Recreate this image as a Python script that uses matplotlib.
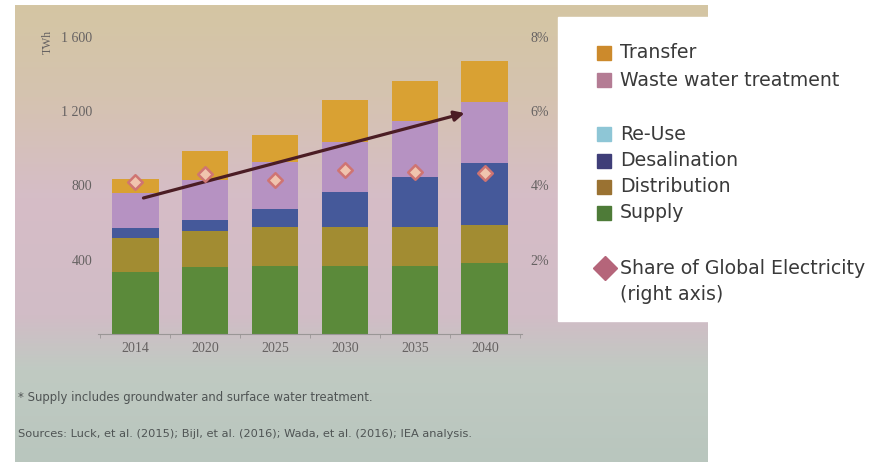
import matplotlib
matplotlib.use('Agg')
import matplotlib.pyplot as plt
import numpy as np
from matplotlib.colors import LinearSegmentedColormap
from matplotlib.patches import Rectangle

# Electricity use in the water sector, TWh
years = ['2014', '2020', '2025', '2030', '2035', '2040']
supply = [335, 358, 365, 365, 365, 380]
distribution = [184, 197, 211, 211, 211, 205]
desalination = [49, 57, 99, 188, 269, 335]
re_use = [0, 0, 0, 0, 0, 0]
waste_water = [191, 215, 250, 269, 304, 327]
transfer = [73, 157, 144, 224, 215, 221]

# share of global electricity demand, % (right axis)
share_pct = [4.09, 4.30, 4.15, 4.40, 4.36, 4.33]

# trend arrow (category index, TWh)
trend_start = (0.12, 732)
trend_end = (4.71, 1189)

left_ticks = [400, 800, 1200, 1600]
left_labels = ['400', '800', '1 200', '1 600']
right_ticks = [2, 4, 6, 8]
right_labels = ['2%', '4%', '6%', '8%']

series = [supply, distribution, desalination, re_use, waste_water, transfer]
bar_colors = ['#5b8a3a', '#a28c32', '#45599a', '#8ec7d6', '#b692c2', '#d9a133']

W, H = 877, 462
fig = plt.figure(figsize=(W / 100, H / 100), dpi=100)

# page and slide background, in pixel units
bg = fig.add_axes([0, 0, 1, 1], zorder=-10)
slide_cmap = LinearSegmentedColormap.from_list('slide', [
    (0.0, '#d4c6a3'), (0.2, '#d5c3b0'), (0.42, '#d6bdc7'),
    (0.68, '#d1bcc6'), (0.8, '#c0cac2'), (1.0, '#b9c6be')])
grad = np.linspace(0, 1, 256).reshape(-1, 1)
bg.imshow(grad, cmap=slide_cmap, extent=(15, 708, 462, 5), aspect='auto')
bg.add_patch(Rectangle((558, 17), W - 558, 321 - 17, color='white', zorder=2))
bg.set_xlim(0, W)
bg.set_ylim(H, 0)
bg.axis('off')

# stacked bars
ax = fig.add_axes([98 / W, 1 - 334 / H, (522 - 98) / W, (334 - 36.7) / H])
ax.patch.set_alpha(0)
x = np.arange(len(years))
bottom = np.zeros(len(years))
for vals, color in zip(series, bar_colors):
    ax.bar(x, vals, 0.67, bottom=bottom, color=color, zorder=2)
    bottom += np.array(vals)

tick_color = '#666262'
ax.set_xlim(-0.53, 5.53)
ax.set_ylim(0, 1600)
ax.set_yticks(left_ticks, left_labels)
ax.set_xticks(x, years)
ax.set_xticks(np.arange(-0.5, len(years), 1), minor=True)
ax.tick_params(axis='y', length=0, pad=4, labelsize=10, labelcolor=tick_color)
ax.tick_params(axis='x', which='major', length=0, pad=6, labelsize=10, labelcolor=tick_color)
ax.tick_params(axis='x', which='minor', length=3, color='#9a9696')
for lab in ax.get_xticklabels() + ax.get_yticklabels():
    lab.set_family('Liberation Serif')
for s in ['left', 'right', 'top']:
    ax.spines[s].set_visible(False)
ax.spines['bottom'].set_color('#9a9696')

ax.annotate('', xy=trend_end, xytext=trend_start,
            arrowprops=dict(arrowstyle='-|>,head_length=0.6,head_width=0.3',
                            color='#4b1d24', lw=2.3, shrinkA=0, shrinkB=0),
            zorder=4)

# share of electricity on the right axis
ax2 = ax.twinx()
ax2.patch.set_alpha(0)
ax2.set_ylim(0, 8)
ax2.set_yticks(right_ticks, right_labels)
ax2.tick_params(axis='y', length=0, pad=6, labelsize=10, labelcolor=tick_color)
for lab in ax2.get_yticklabels():
    lab.set_family('Liberation Serif')
for s in ax2.spines.values():
    s.set_visible(False)
ax2.scatter(x, share_pct, marker='D', s=55, facecolor='#f0c4ae',
            edgecolor='#cf7472', linewidth=1.8, zorder=3)

fig.text(48 / W, 1 - 30 / H, 'TWh', rotation=90, ha='center', va='top',
         fontsize=8.5, family='Liberation Serif', color=tick_color)

# notes under the chart
note_color = '#4f5454'
fig.text(18 / W, 1 - 397 / H, '* Supply includes groundwater and surface water treatment.',
         va='center', fontsize=8.4, color=note_color)
fig.text(18 / W, 1 - 434 / H,
         'Sources: Luck, et al. (2015); Bijl, et al. (2016); Wada, et al. (2016); IEA analysis.',
         va='center', fontsize=8.2, color=note_color)

# legend panel
legend_size = 13.6
legend_rows = [
    ('Transfer', 53, '#cc8a2c'),
    ('Waste water treatment', 80, '#b47c94'),
    ('Re-Use', 134, '#8ec6d6'),
    ('Desalination', 161, '#3f3e78'),
    ('Distribution', 187, '#9a7232'),
    ('Supply', 213, '#4e7b38'),
]
for label, y, color in legend_rows:
    bg.add_patch(Rectangle((597, y - 7), 14, 14, color=color, zorder=3))
    bg.text(620, y, label, va='center', ha='left', fontsize=legend_size,
            color='#3a3a3a', zorder=4)
bg.plot([605], [268], marker='D', ms=12.5, color='#b5657a', zorder=4)
bg.text(620, 268, 'Share of Global Electricity', va='center', fontsize=legend_size,
        color='#3a3a3a', zorder=4)
bg.text(620, 295, '(right axis)', va='center', fontsize=legend_size,
        color='#3a3a3a', zorder=4)

fig.savefig('out.png', dpi=100)
